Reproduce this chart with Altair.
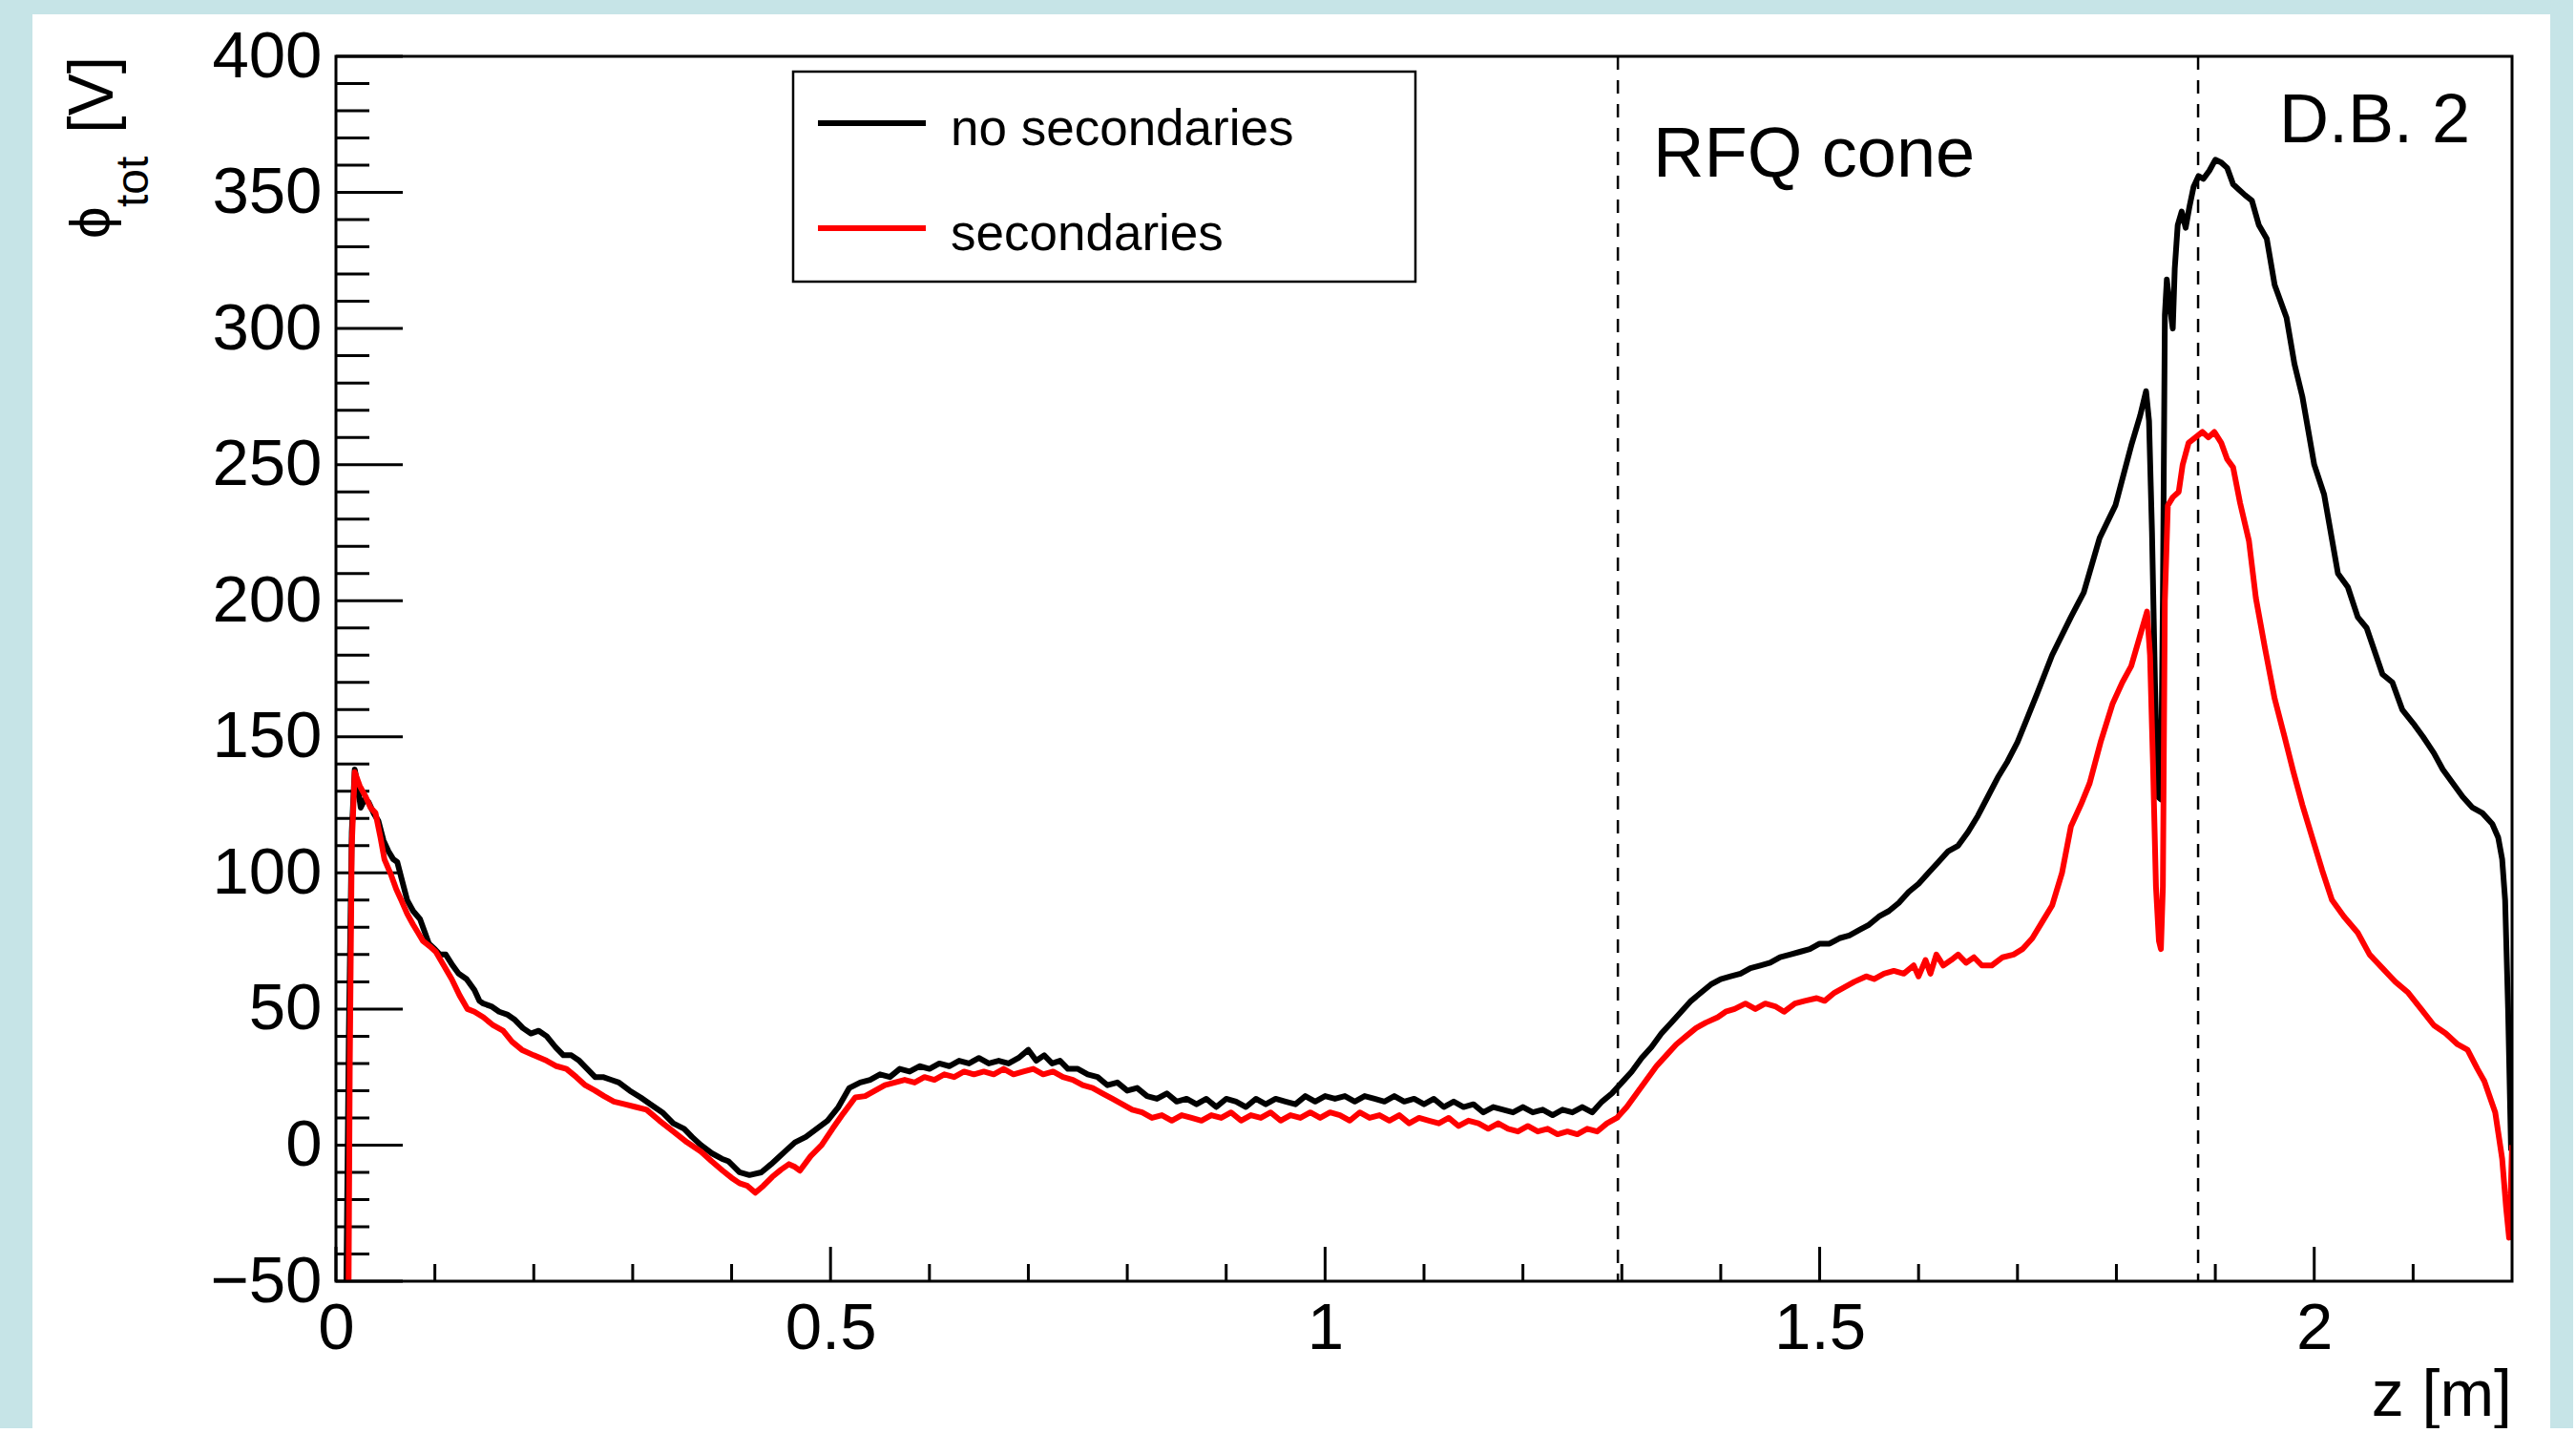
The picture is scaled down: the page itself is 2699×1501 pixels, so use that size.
import altair as alt
import pandas as pd

# ---------------- data ----------------
z_black = [0.010, 0.013, 0.016, 0.019, 0.022, 0.025, 0.029, 0.033, 0.038, 0.043, 0.048, 0.053, 0.058, 0.062,
           0.067, 0.072, 0.078, 0.085, 0.090, 0.094, 0.100, 0.105, 0.111, 0.118, 0.124, 0.132, 0.140, 0.145,
           0.149, 0.157, 0.165, 0.173, 0.181, 0.189, 0.197, 0.205, 0.213, 0.222, 0.230, 0.238, 0.246, 0.254,
           0.262, 0.270, 0.278, 0.286, 0.297, 0.308, 0.318, 0.330, 0.341, 0.352, 0.360, 0.369, 0.380, 0.390,
           0.397, 0.408, 0.418, 0.430, 0.440, 0.447, 0.455, 0.464, 0.475, 0.486, 0.497, 0.508, 0.519, 0.530,
           0.540, 0.550, 0.560, 0.570, 0.580, 0.590, 0.600, 0.610, 0.620, 0.630, 0.640, 0.650, 0.660, 0.670,
           0.680, 0.690, 0.700, 0.708, 0.716, 0.724, 0.732, 0.740, 0.750, 0.760, 0.770, 0.780, 0.790, 0.800,
           0.810, 0.820, 0.830, 0.840, 0.850, 0.860, 0.870, 0.880, 0.890, 0.900, 0.910, 0.920, 0.930, 0.940,
           0.950, 0.960, 0.970, 0.980, 0.990, 1.000, 1.010, 1.020, 1.030, 1.040, 1.050, 1.060, 1.070, 1.080,
           1.090, 1.100, 1.110, 1.120, 1.130, 1.140, 1.150, 1.160, 1.170, 1.180, 1.190, 1.200, 1.210, 1.220,
           1.230, 1.240, 1.250, 1.260, 1.270, 1.280, 1.290, 1.300, 1.310, 1.320, 1.330, 1.340, 1.350, 1.360,
           1.370, 1.380, 1.390, 1.400, 1.410, 1.420, 1.430, 1.440, 1.450, 1.460, 1.470, 1.480, 1.490, 1.500,
           1.510, 1.520, 1.530, 1.540, 1.550, 1.560, 1.570, 1.580, 1.590, 1.600, 1.610, 1.620, 1.630, 1.640,
           1.650, 1.660, 1.670, 1.680, 1.690, 1.700, 1.710, 1.720, 1.735, 1.754, 1.767, 1.783, 1.799, 1.815,
           1.824, 1.830, 1.833, 1.836, 1.839, 1.842, 1.845, 1.847, 1.849, 1.851, 1.854, 1.857, 1.859, 1.862,
           1.866, 1.870, 1.874, 1.878, 1.883, 1.888, 1.894, 1.900, 1.906, 1.912, 1.918, 1.924, 1.930, 1.937,
           1.944, 1.952, 1.960, 1.972, 1.980, 1.988, 2.000, 2.010, 2.024, 2.034, 2.044, 2.053, 2.069, 2.079,
           2.089, 2.100, 2.110, 2.121, 2.130, 2.140, 2.150, 2.160, 2.170, 2.180, 2.186, 2.190, 2.193, 2.196,
           2.199]
v_black = [-70, 40, 115, 138, 132, 124, 127, 126, 122, 119, 112, 108, 105, 104,
           97, 90, 86, 83, 78, 74, 72, 70, 70, 66, 63, 61, 57, 53,
           52, 51, 49, 48, 46, 43, 41, 42, 40, 36, 33, 33, 31, 28,
           25, 25, 24, 23, 20, 17.5, 15, 12, 8, 6, 3, 0, -3, -5,
           -6, -10, -11, -10, -7, -4.7, -2, 1, 3, 6, 9, 14, 21, 23,
           24, 26, 25, 28, 27, 29, 28, 30, 29, 31, 30, 32, 30, 31,
           30, 32, 35, 31, 33, 30, 31, 28, 28, 26, 25, 22, 23, 20,
           21, 18, 17, 19, 16, 17, 15, 17, 14, 17, 16, 14, 17, 15,
           17, 16, 15, 18, 16, 18, 17, 18, 16, 18, 17, 16, 18, 16,
           17, 15, 17, 14, 16, 14, 15, 12, 14, 13, 12, 14, 12, 13,
           11, 13, 12, 14, 12, 16, 19, 23, 27, 32, 36, 41, 45, 49,
           53, 56, 59, 61, 62, 63, 65, 66, 67, 69, 70, 71, 72, 74,
           74, 76, 77, 79, 81, 84, 86, 89, 93, 96, 100, 104, 108, 110,
           115, 121, 128, 135, 141, 148, 157, 166, 180, 194, 203, 223, 235, 257,
           268, 277, 266, 225, 170, 128, 127, 200, 305, 318, 308, 300, 322, 338,
           343, 337, 345, 352, 356, 355, 358, 362, 361, 359, 353, 351, 349, 347,
           338, 333, 316, 304, 287, 275, 250, 239, 210, 205, 194, 190, 173, 170,
           160, 155, 150, 144, 138, 133, 128, 124, 122, 118, 113, 105, 90, 50,
           -2]

z_red = [0.0125, 0.014, 0.016, 0.019, 0.024, 0.030, 0.035, 0.040, 0.045, 0.049, 0.056, 0.061, 0.066, 0.072,
         0.078, 0.083, 0.088, 0.095, 0.101, 0.109, 0.117, 0.125, 0.133, 0.140, 0.149, 0.159, 0.169, 0.178,
         0.188, 0.200, 0.213, 0.223, 0.233, 0.243, 0.252, 0.262, 0.271, 0.281, 0.292, 0.303, 0.314, 0.327,
         0.341, 0.355, 0.369, 0.380, 0.391, 0.400, 0.408, 0.416, 0.424, 0.432, 0.441, 0.450, 0.458, 0.464,
         0.469, 0.480, 0.491, 0.502, 0.513, 0.525, 0.535, 0.545, 0.555, 0.565, 0.575, 0.585, 0.595, 0.605,
         0.615, 0.625, 0.635, 0.645, 0.655, 0.665, 0.675, 0.685, 0.695, 0.705, 0.715, 0.725, 0.735, 0.745,
         0.755, 0.765, 0.775, 0.785, 0.795, 0.805, 0.815, 0.825, 0.835, 0.845, 0.855, 0.865, 0.875, 0.885,
         0.895, 0.905, 0.915, 0.925, 0.935, 0.945, 0.955, 0.965, 0.975, 0.985, 0.995, 1.005, 1.015, 1.025,
         1.035, 1.045, 1.055, 1.065, 1.075, 1.085, 1.095, 1.105, 1.115, 1.125, 1.135, 1.145, 1.155, 1.165,
         1.175, 1.185, 1.195, 1.205, 1.215, 1.225, 1.235, 1.245, 1.255, 1.265, 1.275, 1.285, 1.295, 1.305,
         1.315, 1.325, 1.335, 1.345, 1.355, 1.365, 1.375, 1.385, 1.397, 1.405, 1.414, 1.425, 1.435, 1.445,
         1.455, 1.464, 1.475, 1.485, 1.497, 1.505, 1.515, 1.525, 1.535, 1.547, 1.555, 1.565, 1.575, 1.585,
         1.595, 1.600, 1.607, 1.612, 1.618, 1.625, 1.633, 1.640, 1.648, 1.656, 1.664, 1.674, 1.685, 1.696,
         1.705, 1.715, 1.725, 1.735, 1.745, 1.754, 1.764, 1.773, 1.784, 1.796, 1.806, 1.815, 1.823, 1.831,
         1.834, 1.837, 1.840, 1.843, 1.845, 1.847, 1.849, 1.852, 1.857, 1.863, 1.867, 1.873, 1.880, 1.887,
         1.893, 1.899, 1.906, 1.912, 1.918, 1.925, 1.934, 1.941, 1.950, 1.960, 1.970, 1.979, 1.988, 1.998,
         2.008, 2.018, 2.030, 2.044, 2.056, 2.069, 2.082, 2.095, 2.108, 2.121, 2.133, 2.145, 2.155, 2.165,
         2.172, 2.183, 2.190, 2.194, 2.197, 2.1985, 2.200]
v_red = [-70, 30, 110, 137, 132, 128, 124, 122, 113, 105, 99, 94, 90, 85,
         81, 78, 75, 73, 71, 66, 61, 55, 50, 49, 47, 44, 42, 38,
         35, 33, 31, 29, 28, 25, 22, 20, 18, 16, 15, 14, 13, 9,
         5, 1, -2.4, -6, -9.4, -12, -14, -15, -17.5, -15, -11.7, -9, -7, -8,
         -9.4, -4, 0, 6, 11.7, 17.5, 18, 20, 22, 23, 24, 23, 25, 24,
         26, 25, 27, 26, 27, 26, 28, 26, 27, 28, 26, 27, 25, 24,
         22, 21, 19, 17, 15, 13, 12, 10, 11, 9, 11, 10, 9, 11,
         10, 12, 9, 11, 10, 12, 9, 11, 10, 12, 10, 12, 11, 9,
         12, 10, 11, 9, 11, 8, 10, 9, 8, 10, 7, 9, 8, 6,
         8, 6, 5, 7, 5, 6, 4, 5, 4, 6, 5, 8, 10, 14,
         19, 24, 29, 33, 37, 40, 43, 45, 47, 49, 50, 52, 50, 52,
         51, 49, 52, 53, 54, 53, 56, 58, 60, 62, 61, 63, 64, 63,
         66, 62, 68, 63, 70, 66, 68, 70, 67, 69, 66, 66, 69, 70,
         72, 76, 82, 88, 100, 117, 125, 133, 148, 162, 170, 176, 186, 196,
         180, 140, 95, 75, 72, 95, 200, 235, 238, 240, 250, 258, 260, 262,
         260, 262, 258, 252, 249, 236, 222, 201, 183, 164, 150, 137, 125, 113,
         101, 90, 84, 78, 70, 65, 60, 56, 50, 44, 41, 37, 35, 28,
         23.5, 12, -5, -23, -34, -20, 0]

series_names = ["no secondaries", "secondaries"]
series_colors = ["#000000", "#ff0000"]

y_major = [-50, 0, 50, 100, 150, 200, 250, 300, 350, 400]
y_minor = [v for v in range(-50, 401, 10) if v % 50 != 0]
x_major = [0, 0.5, 1, 1.5, 2]
x_minor = [round(0.1 * i, 1) for i in range(1, 22) if i % 5 != 0]
region_edges = [1.296, 1.8826]
region_labels = ["RFQ cone", "D.B. 2"]
x_title = "z [m]"
y_title_parts = ["ϕ", "tot", "[V]"]

# ---------------- layout ----------------
W, H = 2280, 1283
PAD_L, PAD_T = 352, 59
TOTAL_W, TOTAL_H = 2696, 1496
FONT = "Liberation Sans"
LW = 6

df_black = pd.DataFrame({"z": z_black, "v": v_black})
df_red = pd.DataFrame({"z": z_red, "v": v_red})
one = pd.DataFrame({"k": [0]})

xscale = alt.Scale(domain=[0, 2.2], nice=False, zero=False)
yscale = alt.Scale(domain=[-50, 400], nice=False, zero=False)
xaxis = alt.Axis(values=x_major, format="~g", title=None, ticks=False, domain=False, grid=False,
                 labelFont=FONT, labelFontSize=69, labelColor="black", labelPadding=15,
                 labelFlush=False, labelOverlap=False, labelLimit=0, zindex=2)
yaxis = alt.Axis(values=y_major, format="d", title=None, ticks=False, domain=False, grid=False,
                 labelFont=FONT, labelFontSize=69, labelColor="black", labelPadding=15,
                 labelFlush=False, labelOverlap=False, labelLimit=0, zindex=2)

X = lambda f: alt.X(f, type="quantitative", scale=xscale, axis=xaxis)
Y = lambda f: alt.Y(f, type="quantitative", scale=yscale, axis=yaxis)

panel = alt.Chart(one).mark_rect(fill="white", stroke=None).encode(
    x=alt.value(34 - PAD_L), x2=alt.value(2672 - PAD_L),
    y=alt.value(15 - PAD_T), y2=alt.value(TOTAL_H - PAD_T + 10))

ytick_major = alt.Chart(pd.DataFrame({"t": y_major})).mark_rule(color="black", strokeWidth=3).encode(
    y=Y("t"), x=alt.value(0), x2=alt.value(70))
ytick_minor = alt.Chart(pd.DataFrame({"t": y_minor})).mark_rule(color="black", strokeWidth=3).encode(
    y=Y("t"), x=alt.value(0), x2=alt.value(35))
xtick_major = alt.Chart(pd.DataFrame({"t": x_major})).mark_rule(color="black", strokeWidth=3).encode(
    x=X("t"), y=alt.value(H), y2=alt.value(H - 36))
xtick_minor = alt.Chart(pd.DataFrame({"t": x_minor})).mark_rule(color="black", strokeWidth=3).encode(
    x=X("t"), y=alt.value(H), y2=alt.value(H - 18))

dashed = alt.Chart(pd.DataFrame({"z": region_edges})).mark_rule(
    color="black", strokeWidth=2.5, strokeDash=[14, 11]).encode(
    x=X("z"), y=alt.value(0), y2=alt.value(H))

line_black = alt.Chart(df_black).mark_line(color=series_colors[0], strokeWidth=LW, clip=True,
                                           strokeJoin="round").encode(x=X("z"), y=Y("v"))
line_red = alt.Chart(df_red).mark_line(color=series_colors[1], strokeWidth=LW, clip=True,
                                       strokeJoin="round").encode(x=X("z"), y=Y("v"))

frame = alt.Chart(one).mark_rect(fill="white", fillOpacity=0, stroke="black", strokeWidth=3).encode(
    x=alt.value(0), x2=alt.value(W), y=alt.value(0), y2=alt.value(H))

# legend (drawn by hand, ROOT style)
leg_box = alt.Chart(one).mark_rect(fill="white", stroke="black", strokeWidth=2.5).encode(
    x=alt.value(831 - PAD_L), x2=alt.value(1483 - PAD_L),
    y=alt.value(75 - PAD_T), y2=alt.value(295 - PAD_T))
leg_layers = []
for name, col, ly, ty in zip(series_names, series_colors, [129, 239], [152, 262]):
    leg_layers.append(alt.Chart(one).mark_rule(color=col, strokeWidth=LW).encode(
        x=alt.value(857 - PAD_L), x2=alt.value(970 - PAD_L), y=alt.value(ly - PAD_T)))
    leg_layers.append(alt.Chart(one).mark_text(
        text=name, font=FONT, fontSize=53, align="left", baseline="alphabetic", color="black").encode(
        x=alt.value(996 - PAD_L), y=alt.value(ty - PAD_T)))

txt_rfq = alt.Chart(one).mark_text(text=region_labels[0], font=FONT, fontSize=74, align="left",
                                   baseline="alphabetic", color="black").encode(
    x=alt.value(1732 - PAD_L), y=alt.value(185 - PAD_T))
txt_db = alt.Chart(one).mark_text(text=region_labels[1], font=FONT, fontSize=72, align="right",
                                  baseline="alphabetic", color="black").encode(
    x=alt.value(2588 - PAD_L), y=alt.value(149 - PAD_T))

txt_xtitle = alt.Chart(one).mark_text(text=x_title, font=FONT, fontSize=68, align="right",
                                      baseline="alphabetic", color="black").encode(
    x=alt.value(W), y=alt.value(1483 - PAD_T))

yt_phi = alt.Chart(one).mark_text(text=y_title_parts[0], font=FONT, fontSize=60, angle=270, align="left",
                                  baseline="alphabetic", color="black").encode(
    x=alt.value(115 - PAD_L), y=alt.value(250 - PAD_T))
yt_sub = alt.Chart(one).mark_text(text=y_title_parts[1], font=FONT, fontSize=48, angle=270, align="left",
                                  baseline="alphabetic", color="black").encode(
    x=alt.value(155 - PAD_L), y=alt.value(217 - PAD_T))
yt_unit = alt.Chart(one).mark_text(text=y_title_parts[2], font=FONT, fontSize=66, angle=270, align="right",
                                   baseline="alphabetic", color="black").encode(
    x=alt.value(118 - PAD_L), y=alt.value(0))

chart = alt.layer(
    panel, ytick_minor, ytick_major, xtick_minor, xtick_major, dashed,
    line_black, line_red, frame, leg_box, *leg_layers,
    txt_rfq, txt_db, txt_xtitle, yt_phi, yt_sub, yt_unit
).properties(
    width=W, height=H,
    autosize=alt.AutoSizeParams(type="none"),
    padding={"left": PAD_L, "top": PAD_T, "right": TOTAL_W - PAD_L - W, "bottom": TOTAL_H - PAD_T - H},
).configure(
    background="#C6E4E7", font=FONT
).configure_view(stroke=None)

chart.save("out.html", embed_options={"renderer": "svg", "actions": False})
